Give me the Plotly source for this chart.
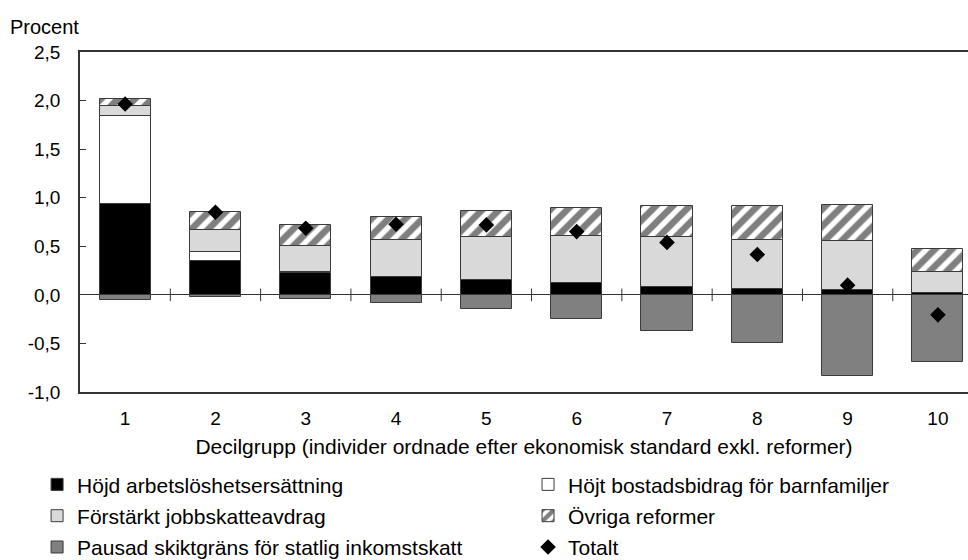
import plotly.graph_objects as go

categories = ["1", "2", "3", "4", "5", "6", "7", "8", "9", "10"]
hojd_arbetsloshet = [0.94, 0.35, 0.22, 0.185, 0.154, 0.117, 0.086, 0.065, 0.051, 0.017]
hojt_bostadsbidrag = [0.90, 0.09, 0.015, 0, 0, 0, 0, 0, 0, 0]
forstarkt_jobbskatteavdrag = [0.105, 0.23, 0.273, 0.375, 0.446, 0.49, 0.508, 0.498, 0.501, 0.217]
ovriga_reformer = [0.075, 0.187, 0.216, 0.245, 0.264, 0.288, 0.325, 0.349, 0.374, 0.239]
pausad_skiktgrans = [-0.055, -0.02, -0.041, -0.086, -0.147, -0.25, -0.377, -0.50, -0.837, -0.686]
totalt = [1.965, 0.85, 0.686, 0.727, 0.72, 0.651, 0.54, 0.415, 0.10, -0.206]

y_tickvals = [-1.0, -0.5, 0.0, 0.5, 1.0, 1.5, 2.0, 2.5]
y_ticktext = ["-1,0", "-0,5", "0,0", "0,5", "1,0", "1,5", "2,0", "2,5"]

FONT = "Liberation Sans, Arial, sans-serif"
xpos = list(range(1, len(categories) + 1))
OUTLINE = dict(color="#3a3a3a", width=1)
BW = 0.565

fig = go.Figure()
fig.add_trace(go.Bar(x=xpos, y=hojd_arbetsloshet, name="Höjd arbetslöshetsersättning",
                     marker=dict(color="#000000", line=OUTLINE), width=BW,
                     legend="legend", legendgroup="a"))
fig.add_trace(go.Bar(x=xpos, y=hojt_bostadsbidrag, name="Höjt bostadsbidrag för barnfamiljer",
                     marker=dict(color="#ffffff", line=OUTLINE), width=BW,
                     legend="legend2", legendgroup="b"))
fig.add_trace(go.Bar(x=xpos, y=forstarkt_jobbskatteavdrag, name="Förstärkt jobbskatteavdrag",
                     marker=dict(color="#d9d9d9", line=OUTLINE), width=BW,
                     legend="legend", legendgroup="c"))
fig.add_trace(go.Bar(x=xpos, y=ovriga_reformer, name="Övriga reformer",
                     marker=dict(color="#ffffff", line=OUTLINE,
                                 pattern=dict(shape="/", fgcolor="#000000", bgcolor="#ffffff",
                                              size=12, solidity=0.55)),
                     width=BW, legend="legend2", legendgroup="d"))
fig.add_trace(go.Bar(x=xpos, y=pausad_skiktgrans, name="Pausad skiktgräns för statlig inkomstskatt",
                     marker=dict(color="#808080", line=OUTLINE), width=BW,
                     legend="legend", legendgroup="e"))
fig.add_trace(go.Scatter(x=xpos, y=totalt, name="Totalt", mode="markers",
                         marker=dict(symbol="diamond", color="#000000", size=12),
                         legend="legend2", legendgroup="f"))

# small tick marks crossing the zero line between categories
shapes = []
for k in xpos[:-1]:
    shapes.append(dict(type="line", xref="x", yref="y", x0=k + 0.5, x1=k + 0.5,
                       y0=-0.065, y1=0.065, line=dict(color="#333333", width=1)))

legend_common = dict(font=dict(family=FONT, size=21, color="#000000"),
                     orientation="v", traceorder="grouped", tracegroupgap=1,
                     bgcolor="rgba(0,0,0,0)", xref="container", yref="container",
                     xanchor="left", yanchor="top")

fig.update_layout(
    width=968, height=560,
    margin=dict(l=80, r=0, t=52, b=168, autoexpand=False),
    paper_bgcolor="white", plot_bgcolor="white",
    barmode="relative", bargap=0,
    font=dict(family=FONT, size=19, color="#000000"),
    showlegend=True,
    legend=dict(x=0.0383, y=0.171, **legend_common),
    legend2=dict(x=0.5455, y=0.171, **legend_common),
    shapes=shapes,
    xaxis=dict(range=[0.5, 10.333], tickvals=xpos, ticktext=categories,
               showline=True, linecolor="#333333", linewidth=1.5, mirror=True,
               ticks="", showgrid=False, zeroline=False,
               ticklabelstandoff=8,
               tickfont=dict(family=FONT, size=19),
               title=dict(text="Decilgrupp (individer ordnade efter ekonomisk standard exkl. reformer)",
                          font=dict(family=FONT, size=21), standoff=12)),
    yaxis=dict(range=[-1.0, 2.5], tickvals=y_tickvals, ticktext=y_ticktext,
               showline=True, linecolor="#333333", linewidth=1.5,
               ticks="inside", ticklen=6, tickcolor="#333333",
               showgrid=False, zeroline=True, zerolinecolor="#333333", zerolinewidth=1,
               ticklabelstandoff=14,
               tickfont=dict(family=FONT, size=19)),
    annotations=[dict(text="Procent", xref="paper", yref="paper", x=-0.081, y=1.0,
                      xanchor="left", yanchor="bottom", yshift=12, showarrow=False,
                      font=dict(family=FONT, size=20))],
)

fig.write_html("out.html", config={"displayModeBar": False},
               post_script="document.body.style.margin='0px';")
